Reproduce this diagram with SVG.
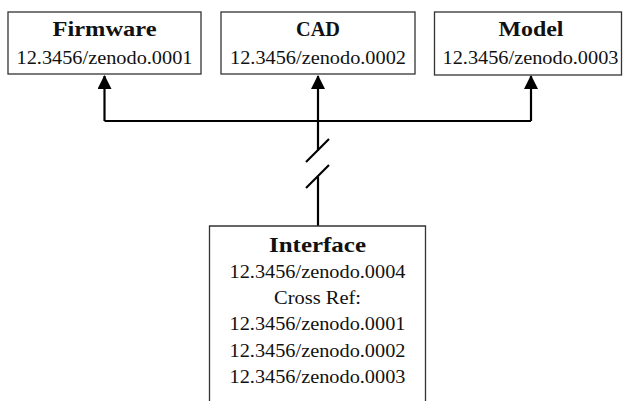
<svg xmlns="http://www.w3.org/2000/svg" width="625" height="401" viewBox="0 0 625 401">
  <defs>
    <style>
      .box { fill: #ffffff; stroke: #333333; stroke-width: 1.3; }
      .title { font-family: "Liberation Serif", "DejaVu Serif", serif; font-weight: bold; font-size: 21px; fill: #111111; text-anchor: middle; }
      .sub { font-family: "Liberation Serif", "DejaVu Serif", serif; font-size: 19.5px; fill: #111111; text-anchor: middle; }
      .wire { fill: none; stroke: #000000; stroke-width: 2.2; }
    </style>
    <marker id="arrow" viewBox="0 0 14 14" refX="13" refY="7" markerWidth="14" markerHeight="14" orient="auto" markerUnits="userSpaceOnUse">
      <path d="M0,0 L14,7 L0,14 Z" fill="#000000"/>
    </marker>
  </defs>
  <rect width="625" height="401" fill="#ffffff"/>

  <g id="connectors">
    <path class="wire" d="M104.5,121 L531,121"/>
    <path class="wire" d="M104.5,121 L104.5,76" marker-end="url(#arrow)"/>
    <path class="wire" d="M318,121 L318,76" marker-end="url(#arrow)"/>
    <path class="wire" d="M531,121 L531,76" marker-end="url(#arrow)"/>
    <path class="wire" d="M318,121 L318,150.5"/>
    <path class="wire" d="M306,162 L329,139"/>
    <path class="wire" d="M306,188 L329,165"/>
    <path class="wire" d="M318,176.5 L318,226"/>
  </g>

  <g id="firmware">
    <rect class="box" x="8" y="12" width="193" height="62"/>
    <text class="title" x="104.5" y="36" textLength="104" lengthAdjust="spacingAndGlyphs">Firmware</text>
    <text class="sub" x="104.5" y="64" textLength="176" lengthAdjust="spacingAndGlyphs">12.3456/zenodo.0001</text>
  </g>

  <g id="cad">
    <rect class="box" x="221" y="12" width="194" height="62"/>
    <text class="title" x="318" y="36" textLength="44" lengthAdjust="spacingAndGlyphs">CAD</text>
    <text class="sub" x="318" y="64" textLength="176" lengthAdjust="spacingAndGlyphs">12.3456/zenodo.0002</text>
  </g>

  <g id="model">
    <rect class="box" x="434.5" y="12" width="187" height="63"/>
    <text class="title" x="531" y="36" textLength="65" lengthAdjust="spacingAndGlyphs">Model</text>
    <text class="sub" x="530.5" y="64" textLength="176" lengthAdjust="spacingAndGlyphs">12.3456/zenodo.0003</text>
  </g>

  <g id="interface">
    <path class="box" d="M209.5,410 L209.5,226 L425.5,226 L425.5,410"/>
    <text class="title" x="317.5" y="252" textLength="97" lengthAdjust="spacingAndGlyphs">Interface</text>
    <text class="sub" x="317.5" y="278" textLength="176" lengthAdjust="spacingAndGlyphs">12.3456/zenodo.0004</text>
    <text class="sub" x="317.5" y="304" textLength="87" lengthAdjust="spacingAndGlyphs">Cross Ref:</text>
    <text class="sub" x="317.5" y="330" textLength="176" lengthAdjust="spacingAndGlyphs">12.3456/zenodo.0001</text>
    <text class="sub" x="317.5" y="356.5" textLength="176" lengthAdjust="spacingAndGlyphs">12.3456/zenodo.0002</text>
    <text class="sub" x="317.5" y="383" textLength="176" lengthAdjust="spacingAndGlyphs">12.3456/zenodo.0003</text>
  </g>
</svg>
